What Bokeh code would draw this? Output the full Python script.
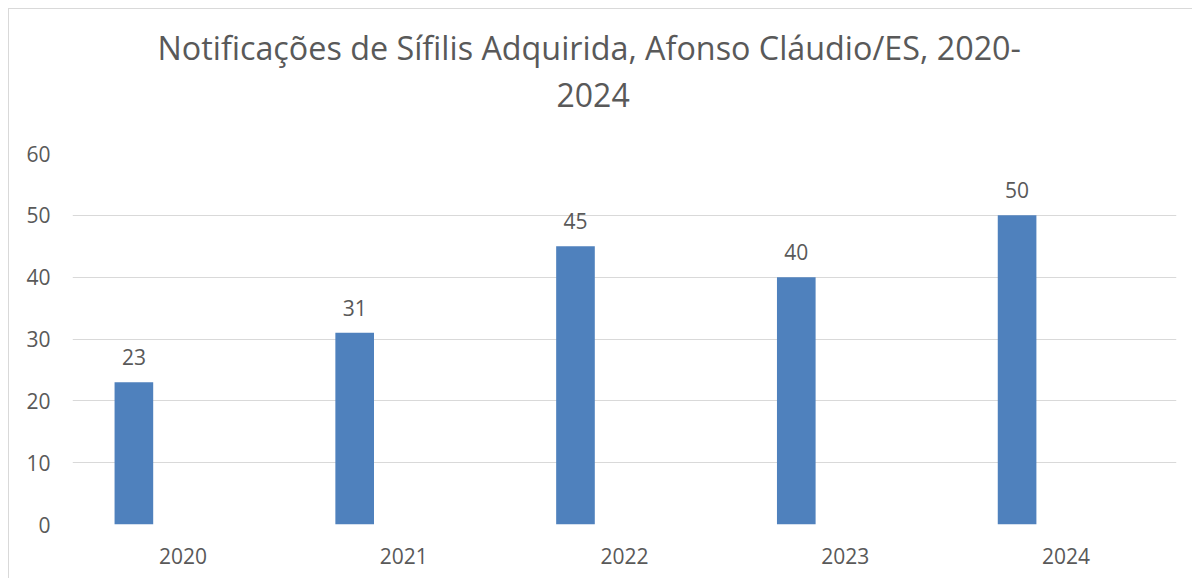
from bokeh.plotting import figure
from bokeh.models import ColumnDataSource, FactorRange, Range1d, FixedTicker, Title
from bokeh.transform import dodge
from bokeh.core.properties import value
from bokeh.embed import file_html
from bokeh.resources import INLINE

years = ["2020", "2021", "2022", "2023", "2024"]
notificacoes = [23, 31, 45, 40, 50]
y_ticks = [0, 10, 20, 30, 40, 50, 60]
title_line1 = "Notificações de Sífilis Adquirida, Afonso Cláudio/ES, 2020-"
title_line2 = "2024"

TEXT = "#595959"
GRID = "#d9d9d9"
BAR = "#4f81bd"
FONT = "Open Sans"

src = ColumnDataSource(dict(year=years, value=notificacoes,
                            label=[str(v) for v in notificacoes]))

p = figure(x_range=FactorRange(factors=years, range_padding=0),
           y_range=Range1d(0, 60),
           width=1184, height=570,
           output_backend="svg", toolbar_location=None,
           min_border_left=63, min_border_right=17,
           min_border_top=144, min_border_bottom=55)
p.styles = {"border-left": "1px solid #d9d9d9", "border-top": "1px solid #d9d9d9",
            "margin-left": "8px", "margin-top": "8px"}
p.outline_line_color = None
p.background_fill_color = "white"
p.border_fill_color = "white"

p.add_layout(Title(text=title_line2, align="left", offset=484,
                   text_font=FONT, text_font_size="32px", text_font_style="normal",
                   text_color=TEXT, standoff=94), "above")
p.add_layout(Title(text=title_line1, align="left", offset=85,
                   text_font=FONT, text_font_size="32.3px", text_font_style="normal",
                   text_color=TEXT, standoff=-71), "above")

p.vbar(x=dodge("year", -0.222, range=p.x_range), top="value", width=0.175,
       source=src, fill_color=BAR, line_color=None)
p.text(x=dodge("year", -0.222, range=p.x_range), y="value", text="label",
       source=src, text_align="center", text_baseline="alphabetic",
       y_offset=-25, text_font=value(FONT), text_font_size="21px", text_color=TEXT)

p.xgrid.grid_line_color = None
p.ygrid.grid_line_color = GRID
p.ygrid.grid_line_width = 1

p.yaxis.ticker = FixedTicker(ticks=y_ticks)
for ax in (p.xaxis[0], p.yaxis[0]):
    ax.axis_line_color = None
    ax.major_tick_line_color = None
    ax.minor_tick_line_color = None
    ax.major_tick_out = 0
    ax.major_tick_in = 0
    ax.major_label_text_font = FONT
    ax.major_label_text_font_size = "21px"
    ax.major_label_text_color = TEXT
p.yaxis.major_label_standoff = 22
p.xaxis.major_label_standoff = 23

open("out.html", "w").write(file_html(p, INLINE))
